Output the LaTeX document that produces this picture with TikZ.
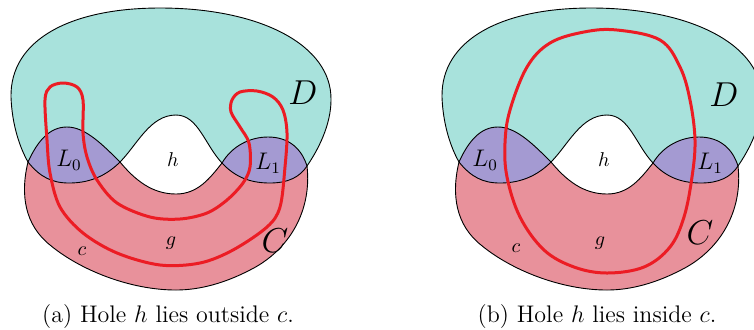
\documentclass[tikz,border=0pt]{standalone}
\usepackage{tikz}
\definecolor{dteal}{RGB}{168,226,220}
\definecolor{cpink}{RGB}{232,145,155}
\definecolor{lpurp}{RGB}{164,154,210}
\definecolor{redline}{RGB}{236,28,36}
\tikzset{
  Dshape/.style={insert path={
    (28,162) .. controls (40,177) and (52,183) .. (69,183)
    .. controls (88,183) and (105,177) .. (120,162)
    .. controls (137,145) and (150,115) .. (176,115)
    .. controls (198,115) and (205,145) .. (222,163)
    .. controls (235,177) and (250,183) .. (270,183)
    .. controls (288,183) and (300,177) .. (307,166)
    .. controls (318,150) and (331,125) .. (331,100)
    .. controls (332,45) and (260,8) .. (160,8)
    .. controls (70,8) and (10,40) .. (11,97)
    .. controls (12,125) and (20,148) .. (28,162) -- cycle}},
  Cshape/.style={insert path={
    (28,162) .. controls (38,140) and (50,127) .. (67,127)
    .. controls (85,127) and (102,144) .. (120,162)
    .. controls (135,180) and (152,194) .. (176,194)
    .. controls (198,194) and (210,178) .. (222,163)
    .. controls (232,146) and (250,137) .. (268,137)
    .. controls (290,137) and (302,150) .. (307,166)
    .. controls (312,210) and (290,250) .. (250,270)
    .. controls (225,283) and (200,290) .. (176,290)
    .. controls (130,290) and (80,270) .. (50,245)
    .. controls (25,225) and (20,195) .. (28,162) -- cycle}},
  outline/.style={draw=black, line width=0.45pt},
  loopline/.style={draw=redline, line width=1.5pt},
  biglab/.style={font=\fontsize{16}{18}\selectfont},
  midlab/.style={font=\fontsize{12}{14}\selectfont},
  smalllab/.style={font=\fontsize{10}{12}\selectfont},
  caplab/.style={font=\fontsize{12}{14}\selectfont},
}
\begin{document}
\begin{tikzpicture}[x=0.5pt,y=-0.5pt]
\useasboundingbox (0,0) rectangle (754,329);
\clip (0,0) rectangle (754,329);
\foreach \dx/\pn in {0/a,431/b}{
\begin{scope}[xshift=\dx*0.5pt]
  \fill[dteal][Dshape];
  \fill[cpink][Cshape];
  \begin{scope}
    \clip[Dshape];
    \fill[lpurp][Cshape];
  \end{scope}
  \draw[outline][Dshape];
  \draw[outline][Cshape];
\end{scope}
}
% red curve (a)
\draw[loopline] plot[smooth cycle, tension=0.55] coordinates {
 (83,133) (83,100) (77,87) (63,83) (50,87) (45,100) (47,140) (50,173)
 (60,207) (83,233) (117,253) (160,265) (200,263) (233,250) (267,227)
 (280,207) (285,167) (287,133) (283,110) (273,97) (257,91) (240,92)
 (232,100) (231,112) (240,127) (249,143) (250,167) (243,183) (227,200)
 (207,213) (180,219) (150,217) (117,203) (97,180) (87,157)};
% red curve (b)
\draw[loopline] plot[smooth cycle, tension=0.6] coordinates {
 (617,30) (660,40) (680,67) (690,100) (695,140) (692,177) (684,217)
 (670,247) (644,267) (607,273) (574,267) (544,250) (520,217) (507,177)
 (505,143) (510,110) (527,67) (550,43) (584,32)};
% labels (a)
\node[biglab] (Da) at (303,93) {$D$};
\node[biglab] (Ca) at (275,241) {$C$};
\node[midlab] (L0a) at (69,160) {$L_0$};
\node[midlab] (L1a) at (268,163) {$L_1$};
\node[smalllab] (ha) at (173,160) {$h$};
\node[smalllab] (ga) at (171,243) {$g$};
\node[smalllab] (ca) at (82,251) {$c$};
% labels (b)
\node[biglab] (Db) at (724,95) {$D$};
\node[biglab] (Cb) at (700,233) {$C$};
\node[midlab] (L0b) at (485,160) {$L_0$};
\node[midlab] (L1b) at (710,163) {$L_1$};
\node[smalllab] (hb) at (604,160) {$h$};
\node[smalllab] (gb) at (600,243) {$g$};
\node[smalllab] (cb) at (516,248) {$c$};
% captions
\node[caplab] (capa) at (168,316) {(a) Hole $h$ lies outside $c$.};
\node[caplab] (capb) at (597,316) {(b) Hole $h$ lies inside $c$.};
\end{tikzpicture}
\end{document}
